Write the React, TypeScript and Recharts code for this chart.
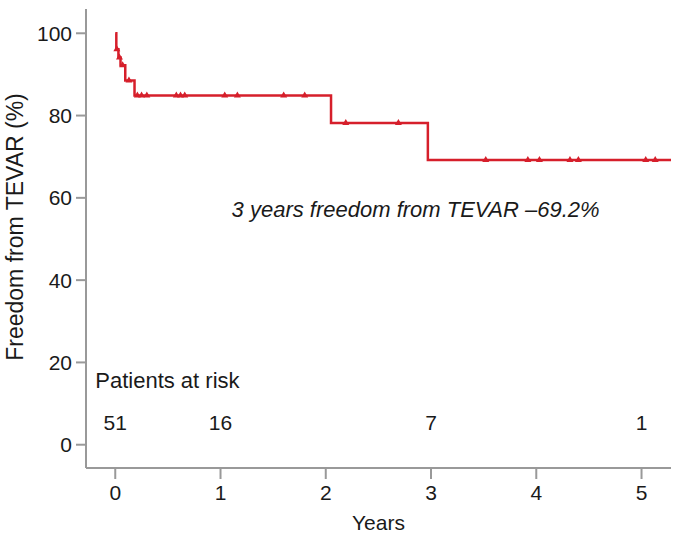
import React from "react";
import {
  ComposedChart,
  Line,
  Scatter,
  XAxis,
  YAxis,
  ReferenceDot,
} from "recharts";

// Kaplan-Meier step curve (years, % free from TEVAR)
const STEP_TIMES = [0, 0.01, 0.03, 0.05, 0.095, 0.183, 2.05, 2.97, 5.28];
const STEP_SURV = [100, 96.1, 94.1, 92.2, 88.5, 84.9, 78.2, 69.2, 69.2];

// censored observations
const CENSOR_TIMES = [
  0.015, 0.04, 0.07, 0.13, 0.21, 0.25, 0.3, 0.58, 0.62, 0.66, 1.04, 1.16, 1.6, 1.8,
  2.19, 2.69, 3.52, 3.92, 4.03, 4.32, 4.4, 5.04, 5.13,
];
const CENSOR_SURV = [
  96.1, 94.1, 92.2, 88.5, 84.9, 84.9, 84.9, 84.9, 84.9, 84.9, 84.9, 84.9, 84.9, 84.9,
  78.2, 78.2, 69.2, 69.2, 69.2, 69.2, 69.2, 69.2, 69.2,
];

// numbers at risk
const RISK_TIMES = [0, 1, 3, 5];
const RISK_COUNTS = [51, 16, 7, 1];
const RISK_ROW_Y = 5.5;

const X_TICKS = [0, 1, 2, 3, 4, 5];
const Y_TICKS = [0, 20, 40, 60, 80, 100];
const X_DOMAIN = [-0.278, 5.28];
const Y_DOMAIN = [-5.66, 105.9];

const RISK_TITLE = "Patients at risk";
const RISK_TITLE_POS = { t: -0.19, s: 15.8 };
const NOTE = "3 years freedom from TEVAR \u201369.2%";
const NOTE_POS = { t: 1.105, s: 57.3 };

const RED = "#d61f2b";
const GRAY = "#999999";
const FONT = '"Liberation Sans", Arial, Helvetica, sans-serif';
const TEXT = "#1a1a1a";

const stepData = STEP_TIMES.map((t, i) => ({ t, s: STEP_SURV[i] }));
const censorData = CENSOR_TIMES.map((t, i) => ({ t, s: CENSOR_SURV[i] }));
const riskData = RISK_TIMES.map((t, i) => ({ t, s: RISK_ROW_Y, n: RISK_COUNTS[i] }));

const Tri = (p: any) => {
  const { cx, cy } = p;
  if (cx == null || cy == null) return null;
  return (
    <polygon
      points={`${cx - 3.5},${cy + 2} ${cx + 3.5},${cy + 2} ${cx},${cy - 4}`}
      fill={RED}
    />
  );
};

const RiskNum = (p: any) => {
  const { cx, cy, payload } = p;
  return (
    <text x={cx} y={cy} dy="0.36em" textAnchor="middle" fontSize={21} fill={TEXT} fontFamily={FONT}>
      {payload.n}
    </text>
  );
};

const YLabel = () => (
  <text
    x={15}
    y={227}
    transform="rotate(-90 15 227)"
    textAnchor="middle"
    dominantBaseline="central"
    fontSize={23}
    fill={TEXT}
    fontFamily={FONT}
  >
    Freedom from TEVAR (%)
  </text>
);

export default function App() {
  const tick = { fontSize: 21, fill: TEXT, fontFamily: FONT };
  return (
    <div style={{ position: "absolute", left: 0, top: 0, width: 675, height: 550, background: "#fff" }}>
      <ComposedChart width={675} height={550} margin={{ top: 9, right: 4, bottom: 0, left: 0 }}>
        <XAxis
          dataKey="t"
          type="number"
          domain={X_DOMAIN}
          ticks={X_TICKS}
          allowDataOverflow
          height={82}
          tick={tick}
          tickSize={11}
          tickMargin={6}
          axisLine={{ stroke: GRAY, strokeWidth: 2 }}
          tickLine={{ stroke: GRAY, strokeWidth: 2 }}
          label={{ value: "Years", position: "insideBottom", offset: 20, fontSize: 21, fill: TEXT, fontFamily: FONT }}
        />
        <XAxis
          xAxisId="top"
          orientation="top"
          type="number"
          domain={X_DOMAIN}
          height={0}
          tick={false}
          tickLine={false}
          axisLine={{ stroke: GRAY, strokeWidth: 2 }}
        />
        <YAxis
          type="number"
          domain={Y_DOMAIN}
          ticks={Y_TICKS}
          allowDataOverflow
          width={86}
          tick={tick}
          tickSize={10}
          tickMargin={4}
          axisLine={{ stroke: GRAY, strokeWidth: 2 }}
          tickLine={{ stroke: GRAY, strokeWidth: 2 }}
          label={{ content: YLabel }}
        />
        <YAxis
          yAxisId="right"
          orientation="right"
          type="number"
          domain={Y_DOMAIN}
          width={0}
          tick={false}
          tickLine={false}
          axisLine={{ stroke: GRAY, strokeWidth: 2 }}
        />
        <Line
          data={stepData}
          dataKey="s"
          type="stepAfter"
          stroke={RED}
          strokeWidth={2.5}
          dot={false}
          activeDot={false}
          isAnimationActive={false}
        />
        <Scatter data={censorData} dataKey="s" shape={Tri} isAnimationActive={false} />
        <Scatter data={riskData} dataKey="s" shape={RiskNum} isAnimationActive={false} />
        <ReferenceDot
          x={RISK_TITLE_POS.t}
          y={RISK_TITLE_POS.s}
          r={0}
          shape={(p: any) => (
            <text x={p.cx} y={p.cy} dy="0.36em" fontSize={22} fill={TEXT} fontFamily={FONT}>
              {RISK_TITLE}
            </text>
          )}
        />
        <ReferenceDot
          x={NOTE_POS.t}
          y={NOTE_POS.s}
          r={0}
          shape={(p: any) => (
            <text x={p.cx} y={p.cy} dy="0.36em" fontSize={22} fontStyle="italic" fill={TEXT} fontFamily={FONT}>
              {NOTE}
            </text>
          )}
        />
      </ComposedChart>
    </div>
  );
}
